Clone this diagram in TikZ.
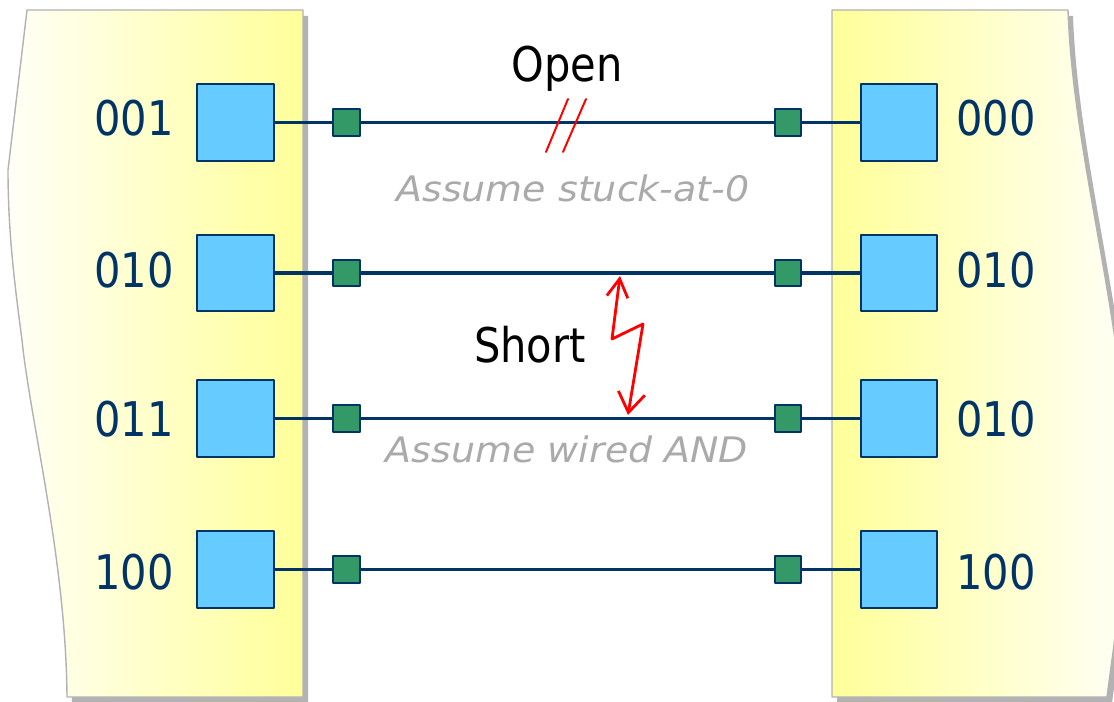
\documentclass[tikz,border=0pt]{standalone}
\usepackage{fontspec}
\newfontfamily\tagfont{DejaVu Sans}[FakeStretch=0.87]
\newfontfamily\notefont{DejaVu Sans}[FakeStretch=1.08]
\usetikzlibrary{arrows.meta,positioning}
\definecolor{pinnavy}{RGB}{0,51,102}
\definecolor{padblue}{RGB}{102,204,255}
\definecolor{viagreen}{RGB}{51,153,102}
\definecolor{boardyellow}{RGB}{255,255,153}
\definecolor{boardgray}{RGB}{178,178,178}
\definecolor{notegray}{RGB}{170,170,170}
\newcommand\leftboard{(27,10) -- (303,10) -- (303,697) -- (67,697)
  .. controls (66,560) and (30,420) .. (22,340)
  .. controls (14,280) and (8,230) .. (8,170) -- cycle}
\newcommand\rightboard{(832,10) -- (1068,10)
  .. controls (1072,120) and (1100,230) .. (1118,360)
  .. controls (1128,450) and (1124,560) .. (1114,645)
  -- (1107,697) -- (832,697) -- cycle}

\begin{document}
\begin{tikzpicture}[x=0.025cm,y=-0.025cm,>=Stealth,line cap=round,line join=round,
 pad/.style={draw=pinnavy,fill=padblue,line width=1.4pt,minimum size=1.92cm,inner sep=0pt},
 via/.style={draw=pinnavy,fill=viagreen,line width=1.6pt,minimum size=0.66cm,inner sep=0pt},
 bits/.style={text=pinnavy,anchor=base,inner sep=0pt,font=\tagfont\fontsize{34}{40}\selectfont},
 tag/.style={text=black,anchor=base,inner sep=0pt,font=\tagfont\fontsize{34}{40}\selectfont},
 note/.style={text=notegray,anchor=base,inner sep=0pt,font=\notefont\itshape\fontsize{25}{30}\selectfont},
 wire/.style={pinnavy,line width=2.8pt}]
 \useasboundingbox (0,0) rectangle (1114,702);
 \clip (0,0) rectangle (1114,702);
 % the two boards
 \fill[boardgray,shift={(5,6)}] \leftboard;
 \fill[boardgray,shift={(5,6)}] \rightboard;
 \shade[left color=boardyellow!8,right color=boardyellow] \leftboard;
 \shade[left color=boardyellow,right color=boardyellow!8] \rightboard;
 \draw[boardgray,line width=1pt] \leftboard;
 \draw[boardgray,line width=1pt] \rightboard;
 % pins and wires
 \foreach \y/\bl/\br/\yb [count=\i] in
  {122.5/001/000/136, 273/010/010/288, 418.5/011/010/437, 569.5/100/100/589}{
  \node[pad] (lpad\i) at (235.5,\y) {};
  \node[pad] (rpad\i) at (899,\y) {};
  \node[via] (lvia\i) at (346.5,\y) {};
  \node[via] (rvia\i) at (788,\y) {};
  \node[bits] (lbits\i) at (134,\yb) {\bl};
  \node[bits] (rbits\i) at (996,\yb) {\br};
  \draw[wire] (lpad\i) -- (lvia\i) -- (rvia\i) -- (rpad\i);
 }
 % faults
 \draw[red,line width=1.4pt] (568,99) -- (546,152);
 \draw[red,line width=1.4pt] (586,99) -- (563,152);
 \draw[red,line width=2pt,{Straight Barb[length=13pt,width=15pt]}-{Straight Barb[length=14pt,width=19pt]}]
  (620,276) -- (612,339) -- (643,324) -- (628,415);
 \node[tag] (open) at (567,82) {Open};
 \node[note] (stuck) at (573,202) {Assume stuck-at-0};
 \node[tag] (short) at (530,362) {Short};
 \node[note] (wand) at (567,462) {Assume wired AND};
\end{tikzpicture}
\end{document}
